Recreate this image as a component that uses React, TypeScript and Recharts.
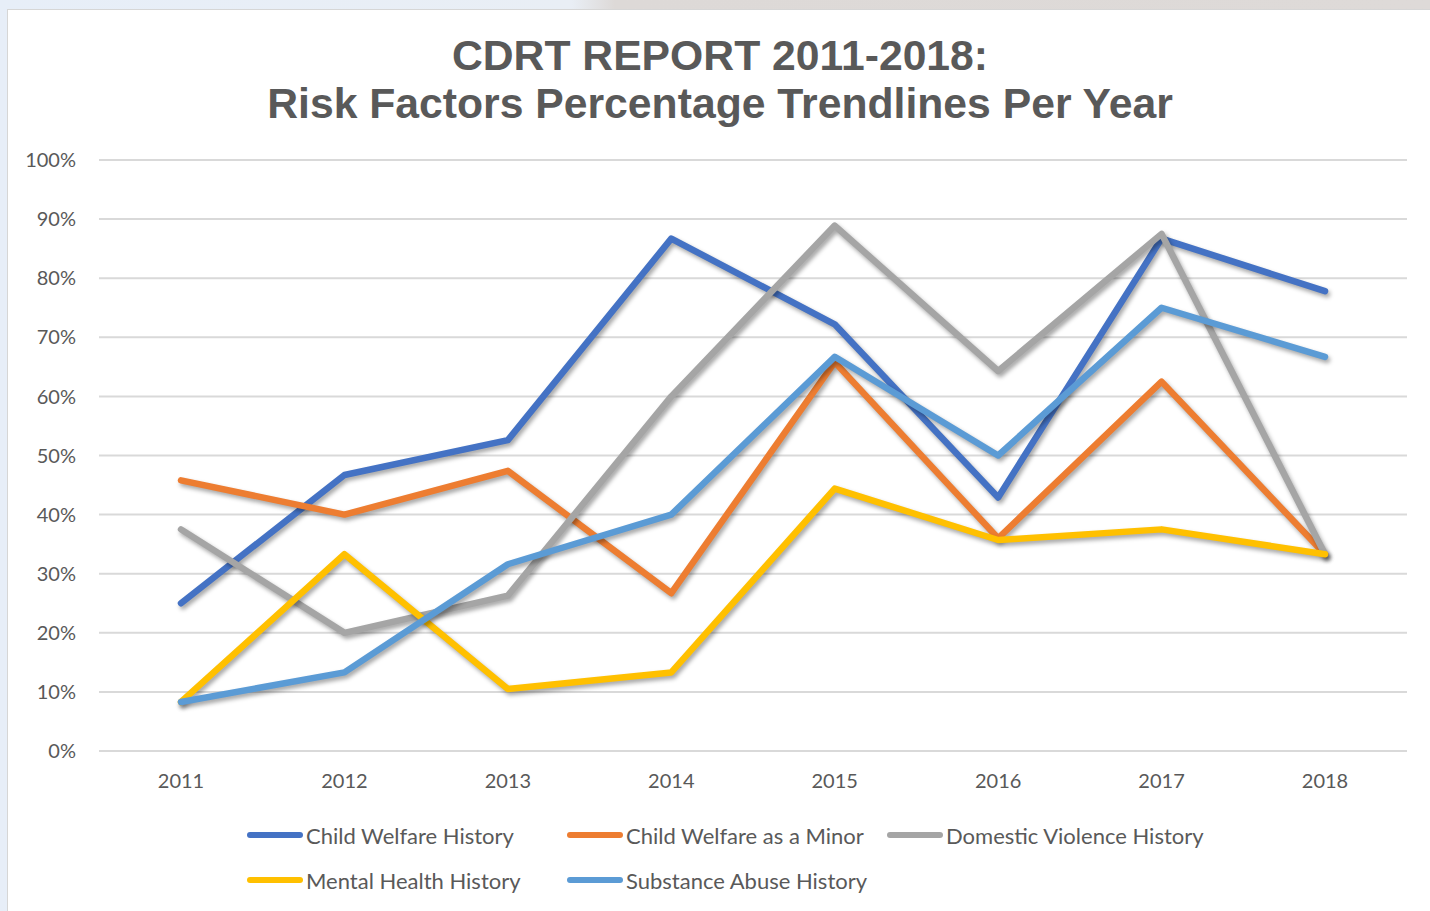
import React from 'react';
import { CartesianGrid, Legend, Line, LineChart, XAxis, YAxis } from 'recharts';

const years = ['2011', '2012', '2013', '2014', '2015', '2016', '2017', '2018'];
const childWelfareHistory = [25, 46.7, 52.6, 86.7, 72.2, 42.9, 86.7, 77.8];
const childWelfareMinor = [45.8, 40, 47.4, 26.7, 65.8, 36, 62.5, 33.3];
const domesticViolence = [37.5, 20, 26.3, 60, 88.9, 64.3, 87.5, 33.3];
const mentalHealth = [8.3, 33.3, 10.5, 13.3, 44.4, 35.7, 37.5, 33.3];
const substanceAbuse = [8.3, 13.3, 31.6, 40, 66.7, 50, 75, 66.7];
const yTicks = [0, 10, 20, 30, 40, 50, 60, 70, 80, 90, 100];

const series = [
  { key: 'cwh', name: 'Child Welfare History', color: '#4472C4', values: childWelfareHistory },
  { key: 'cwm', name: 'Child Welfare as a Minor', color: '#ED7D31', values: childWelfareMinor },
  { key: 'dvh', name: 'Domestic Violence History', color: '#A5A5A5', values: domesticViolence },
  { key: 'mhh', name: 'Mental Health History', color: '#FFC000', values: mentalHealth },
  { key: 'sah', name: 'Substance Abuse History', color: '#5B9BD5', values: substanceAbuse },
];

const data = years.map((year, i) => {
  const row: Record<string, string | number> = { year };
  series.forEach((s) => {
    row[s.key] = s.values[i];
  });
  return row;
});

const textColor = '#595959';

function LegendBox() {
  return (
    <div style={{ position: 'relative', width: 1423, height: 100, fontFamily: 'Lato', fontSize: 22, color: textColor }}>
      {series.map((s, i) => {
        const col = i % 3;
        const row = Math.floor(i / 3);
        return (
          <div
            key={s.key}
            style={{
              position: 'absolute',
              left: 240 + col * 320,
              top: 45 + row * 45 - 14,
              height: 26,
              display: 'flex',
              alignItems: 'center',
              whiteSpace: 'nowrap',
            }}
          >
            <span
              style={{
                display: 'inline-block',
                width: 56,
                height: 6,
                borderRadius: 3,
                background: s.color,
                marginRight: 3,
              }}
            />
            {s.name}
          </div>
        );
      })}
    </div>
  );
}

export default function App() {
  return (
    <div
      style={{
        position: 'absolute',
        left: 0,
        top: 0,
        width: 1430,
        height: 911,
        overflow: 'hidden',
        background: 'linear-gradient(90deg, #e7eef8 0%, #e9eef5 40%, #ddd9d7 43%, #dedad8 100%)',
      }}
    >
      <style>{`.recharts-line-curve { filter: drop-shadow(2px 3px 2px rgba(0,0,0,0.35)); }`}</style>
      <div
        style={{
          position: 'absolute',
          left: 7,
          top: 9,
          width: 1423,
          height: 902,
          background: '#ffffff',
          borderLeft: '1px solid #d6d6d6',
          borderTop: '1px solid #d6d6d6',
          boxSizing: 'border-box',
        }}
      >
        <div
          style={{
            position: 'absolute',
            left: -2,
            top: 21,
            width: 1428,
            textAlign: 'center',
            fontFamily: '"Liberation Sans", Arial, sans-serif',
            fontWeight: 'bold',
            fontSize: 42.7,
            lineHeight: '48px',
            color: textColor,
          }}
        >
          CDRT REPORT 2011-2018:
          <br />
          Risk Factors Percentage Trendlines Per Year
        </div>
        <div style={{ position: 'absolute', left: -1, top: 0 }}>
          <LineChart
            width={1423}
            height={902}
            data={data}
            margin={{ top: 150, right: 23, bottom: 21, left: 0 }}
          >
            <CartesianGrid vertical={false} stroke="#d9d9d9" strokeWidth={2} />
            <XAxis
              dataKey="year"
              height={40}
              padding={{ left: 82, right: 82 }}
              axisLine={{ stroke: '#d9d9d9', strokeWidth: 2 }}
              tickLine={false}
              tickSize={0}
              tickMargin={23}
              tick={{ fill: textColor, fontSize: 20, fontFamily: 'Lato' }}
            />
            <YAxis
              width={92}
              domain={[0, 100]}
              ticks={yTicks}
              axisLine={false}
              tickLine={false}
              tickSize={0}
              tickMargin={23}
              tickFormatter={(v: number) => `${v}%`}
              tick={{ fill: textColor, fontSize: 20, fontFamily: 'Lato' }}
            />
            <Legend
              verticalAlign="bottom"
              height={100}
              wrapperStyle={{ left: 0, width: 1423 }}
              content={() => <LegendBox />}
            />
            {series.map((s) => (
              <Line
                key={s.key}
                type="linear"
                dataKey={s.key}
                name={s.name}
                stroke={s.color}
                strokeWidth={6.5}
                strokeLinecap="round"
                strokeLinejoin="round"
                dot={false}
                activeDot={false}
                isAnimationActive={false}
              />
            ))}
          </LineChart>
        </div>
      </div>
    </div>
  );
}
